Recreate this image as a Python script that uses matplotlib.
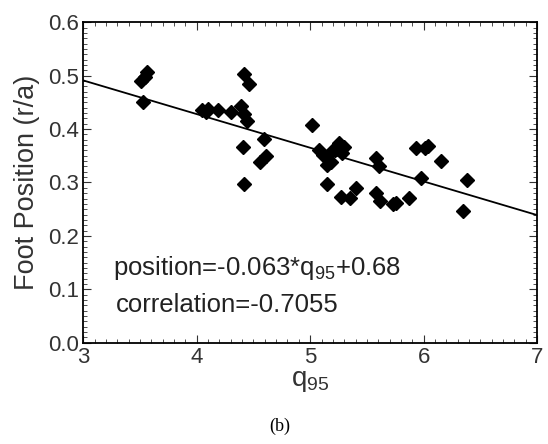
import numpy as np
import matplotlib.pyplot as plt
from matplotlib.ticker import MultipleLocator

# q95 vs foot position
q95 = [3.51, 3.54, 3.56, 3.53, 4.05, 4.08, 4.10, 4.19, 4.30, 4.39, 4.42, 4.44,
       4.42, 4.46, 4.41, 4.42, 4.59, 4.56, 4.61, 5.02, 5.08, 5.11, 5.15, 5.18,
       5.19, 5.22, 5.25, 5.30, 5.28, 5.15, 5.27, 5.35, 5.40, 5.58, 5.61, 5.58,
       5.62, 5.73, 5.76, 5.87, 5.93, 5.98, 6.01, 6.04, 6.15, 6.38, 6.35]
foot = [0.490, 0.498, 0.506, 0.451, 0.435, 0.432, 0.438, 0.435, 0.432, 0.444, 0.429, 0.416,
        0.503, 0.484, 0.367, 0.297, 0.381, 0.339, 0.350, 0.408, 0.361, 0.351, 0.333, 0.339,
        0.358, 0.361, 0.373, 0.367, 0.355, 0.297, 0.273, 0.271, 0.290, 0.345, 0.330, 0.281,
        0.265, 0.260, 0.262, 0.271, 0.364, 0.308, 0.364, 0.369, 0.340, 0.304, 0.247]
slope = -0.063
intercept = 0.68

plt.rcParams['font.family'] = ['Liberation Sans', 'DejaVu Sans']
plt.rcParams['mathtext.fontset'] = 'custom'
plt.rcParams['mathtext.rm'] = 'Liberation Sans'
plt.rcParams['mathtext.it'] = 'Liberation Sans'
fig = plt.figure(figsize=(5.48, 4.44), dpi=100)
ax = fig.add_axes([0.152, 0.228, 0.828, 0.722])

ax.plot(q95, foot, 'D', color='black', markersize=7.5)
xl = np.array([3, 7])
ax.plot(xl, slope * xl + intercept, color='black', lw=1.3)

ax.set_xlim(3, 7)
ax.set_ylim(0, 0.6)
ax.xaxis.set_major_locator(MultipleLocator(1))
ax.xaxis.set_minor_locator(MultipleLocator(0.1))
ax.yaxis.set_major_locator(MultipleLocator(0.1))
ax.yaxis.set_minor_locator(MultipleLocator(0.01))
ax.yaxis.set_major_formatter(plt.FormatStrFormatter('%.1f'))
ax.tick_params(which='both', direction='in', top=True, right=True, labelsize=16,
               labelcolor='#333333', color='#333333')
ax.tick_params(which='major', length=6, pad=3)
ax.tick_params(which='minor', length=3)
for s in ax.spines.values():
    s.set_linewidth(1.3)

ax.set_xlabel('q$_{\\mathrm{95}}$', fontsize=20, labelpad=0, color='#333333')
ax.set_ylabel('Foot Position (r/a)', fontsize=19.5, color='#333333', labelpad=6)

ax.text(3.26, 0.127, 'position=-0.063*q$_{\\mathrm{95}}$+0.68', fontsize=18.5, color='#222222')
ax.text(3.29, 0.07, 'correlation=-0.7055', fontsize=18.5, color='#222222', va='center')

fig.text(0.51, 0.03, '(b)', fontsize=13, family='Liberation Serif', ha='center')

fig.savefig('out.png', dpi=100)
